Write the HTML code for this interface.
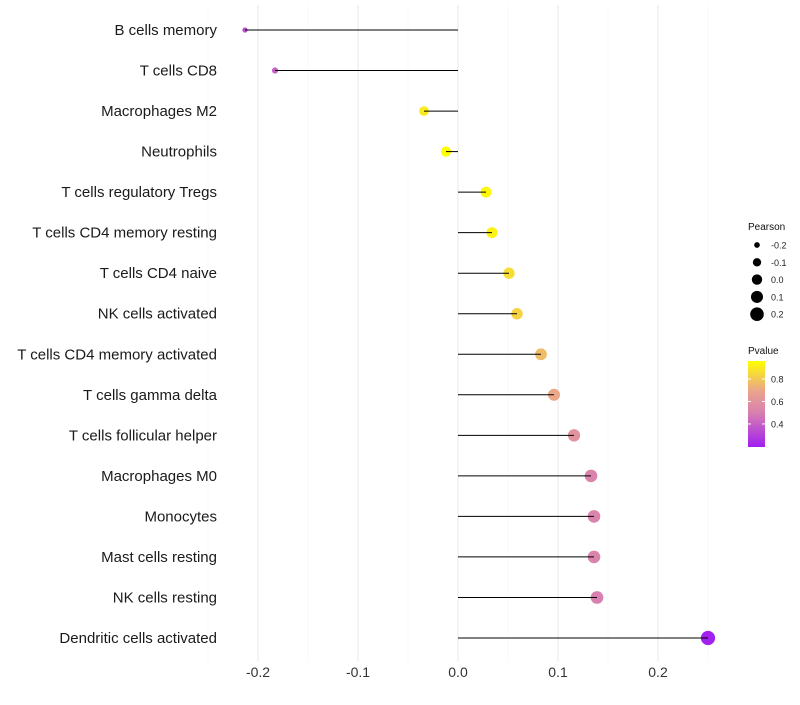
<!DOCTYPE html>
<html><head><meta charset="utf-8"><style>
body{margin:0;background:#fff;font-family:"Liberation Sans",sans-serif;}
</style></head><body>
<svg id="chart" width="800" height="700" xmlns="http://www.w3.org/2000/svg">
<defs><linearGradient id="pg" x1="0" y1="1" x2="0" y2="0">
<stop offset="0" stop-color="#a01ff0"/><stop offset="0.4" stop-color="#d880b0"/><stop offset="0.65" stop-color="#eaa48c"/><stop offset="1" stop-color="#ffff00"/>
</linearGradient></defs>
<g id="grid"></g><g id="marks"></g><g id="labels"></g>
</svg>
<script>
const categories=["B cells memory","T cells CD8","Macrophages M2","Neutrophils","T cells regulatory  Tregs","T cells CD4 memory resting","T cells CD4 naive","NK cells activated","T cells CD4 memory activated","T cells gamma delta","T cells follicular helper","Macrophages M0","Monocytes","Mast cells resting","NK cells resting","Dendritic cells activated"];
const pearson=[-0.213,-0.183,-0.034,-0.012,0.028,0.034,0.051,0.059,0.083,0.096,0.116,0.133,0.136,0.136,0.139,0.25];
const pvalue=[0.35,0.4,0.9,0.97,0.94,0.92,0.86,0.83,0.76,0.7,0.6,0.52,0.52,0.52,0.5,0.2];
const xTicks=[-0.2,-0.1,0,0.1,0.2];
const xTickLabels=["-0.2","-0.1","0.0","0.1","0.2"];
const sizeLegend=[-0.2,-0.1,0,0.1,0.2];
const pTicks=[0.8,0.6,0.4];
const NS="http://www.w3.org/2000/svg";
const X=v=>458+v*1000;
const Y=i=>30+i*(608/15);
const R=v=>Math.sqrt(Math.max(2,27+95*v));
const PY=p=>447-(p-0.195)*(86/0.765);
function lerp(a,b,t){return a.map((x,i)=>Math.round(x+(b[i]-x)*t));}
const cs=[[0.195,[160,31,240]],[0.5,[216,128,176]],[0.69,[234,164,140]],[0.96,[255,255,0]]];
function col(p){for(let i=0;i<cs.length-1;i++){if(p<=cs[i+1][0]){const t=Math.max(0,(p-cs[i][0])/(cs[i+1][0]-cs[i][0]));const c=lerp(cs[i][1],cs[i+1][1],t);return`rgb(${c})`;}}return"rgb(255,255,0)";}
function mk(t,a,parent){const e=document.createElementNS(NS,t);for(const k in a)e.setAttribute(k,a[k]);document.getElementById(parent).appendChild(e);return e;}
for(let v=-0.25;v<=0.251;v+=0.05){const major=Math.abs(Math.round(v*100)%10)==0;
const l=mk("line",{x1:X(v),x2:X(v),y1:5,y2:662,stroke:major?"#ebebeb":"#f5f5f5","stroke-width":major?1.1:0.6},"grid");

}
xTicks.forEach((v,i)=>{const t=mk("text",{x:X(v),y:677,"text-anchor":"middle","font-size":14,fill:"#333"},"labels");t.textContent=xTickLabels[i];

});
categories.forEach((c,i)=>{
const t=mk("text",{x:217,y:Y(i)+5,"text-anchor":"end","font-size":15,fill:"#1a1a1a"},"labels");t.textContent=c;


const p=mk("circle",{cx:X(pearson[i]),cy:Y(i),r:R(pearson[i]),fill:col(pvalue[i])},"marks");


const s=mk("line",{x1:X(0),x2:X(pearson[i]),y1:Y(i),y2:Y(i),stroke:"#000","stroke-width":1},"marks");

});
let t=mk("text",{x:748,y:230,"font-size":10,fill:"#111"},"labels");t.textContent="Pearson";


sizeLegend.forEach((v,i)=>{const y=245+i*17.3;
const c=mk("circle",{cx:757,cy:y,r:R(v),fill:"#000"},"labels");


const l=mk("text",{x:771,y:y+3.5,"font-size":9,fill:"#222"},"labels");l.textContent=xTickLabels[i];

});
t=mk("text",{x:748,y:354,"font-size":10,fill:"#111"},"labels");t.textContent="Pvalue";


const cb=mk("rect",{x:748,y:361,width:17,height:86,fill:"url(#pg)"},"labels");


pTicks.forEach(p=>{const y=PY(p);
mk("line",{x1:748,x2:751,y1:y,y2:y,stroke:"#fff"},"labels");mk("line",{x1:762,x2:765,y1:y,y2:y,stroke:"#fff"},"labels");
const l=mk("text",{x:771,y:y+3.5,"font-size":9,fill:"#222"},"labels");l.textContent=p.toFixed(1);

});
</script>
</body></html>
